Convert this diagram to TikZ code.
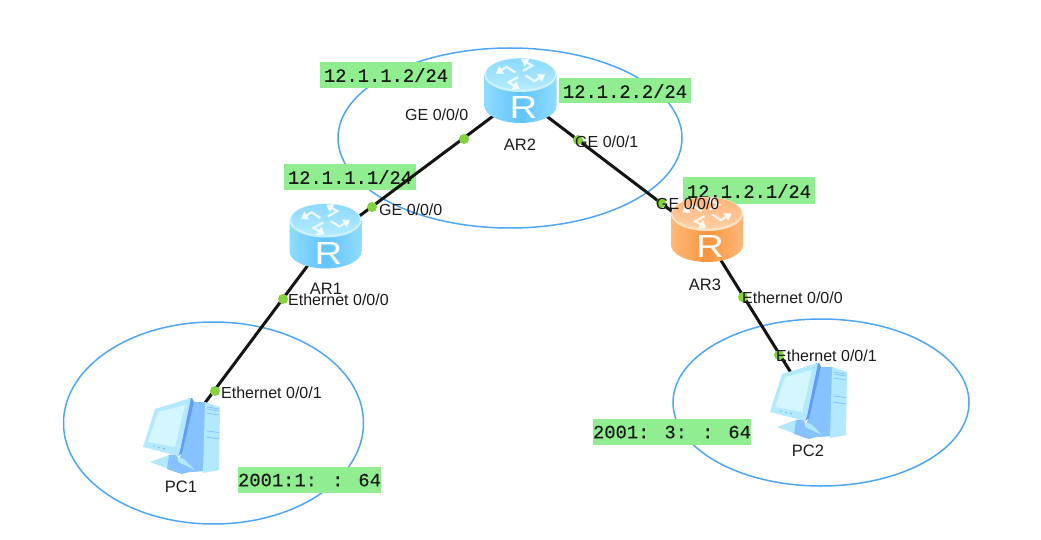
\documentclass[tikz,border=0pt]{standalone}
\usepackage{fontspec}
\setmainfont{Liberation Sans}
\newfontfamily\addrfont[FakeBold=0.25]{Liberation Mono}
\usetikzlibrary{arrows.meta}
\definecolor{ringc}{HTML}{4DA6FA}
\definecolor{boxc}{HTML}{90EE90}
\definecolor{dotc}{HTML}{84D23C}
\definecolor{txtc}{HTML}{1C1C1C}
\tikzset{
  x=1pt,y=-1pt,
  ring/.style={draw=ringc,line width=1.5pt},
  addr/.style={fill=boxc,inner sep=0pt,text=black!90,font=\addrfont\fontsize{18.8}{20}\selectfont,text depth=0pt},
  link/.style={draw=black!92,line width=3pt},
  port/.style={circle,fill=dotc,inner sep=0pt,minimum size=10pt},
  iflabel/.style={anchor=west,inner sep=0pt,text=txtc,font=\fontsize{16}{17}\selectfont},
  devlabel/.style={inner sep=0pt,text=txtc,font=\fontsize{16.5}{18}\selectfont},
  router/.pic={
    \path[left color=routA\pgfkeysvalueof{/tikz/rtone},right color=routA\pgfkeysvalueof{/tikz/rtone},middle color=routB\pgfkeysvalueof{/tikz/rtone}]
      (-36,-16) -- (-36,15.5) arc[start angle=180,end angle=0,x radius=36,y radius=17] -- (36,-16) -- cycle;
    \path[fill=routC\pgfkeysvalueof{/tikz/rtone}] (0,-15.5) ellipse[x radius=36,y radius=17];
    \path[top color=routD\pgfkeysvalueof{/tikz/rtone},bottom color=routE\pgfkeysvalueof{/tikz/rtone}] (0,-16.5) ellipse[x radius=34.5,y radius=15.5];
    \foreach \ang in {20,110,200,290}{
      \begin{scope}[shift={(0,-16.5)},yscale=0.6,rotate=\ang]
        \draw[white,opacity=0.8,line width=2.2pt,-{Triangle[length=7pt,width=9pt]}] (4,4) -- (9,16) -- (23,9);
      \end{scope}}
    \node[text=white,inner sep=0pt,transform shape,xscale=1.2,font=\fontsize{32}{32}\selectfont] at (3,17) {R};
  },
  pc/.pic={
    % tower side
    \fill[pcside] (13,-33) -- (25,-33) -- (25,36) -- (-4,38) -- (0,18) -- cycle;
    % tower front
    \fill[pcfront] (24,-33) -- (39,-28) -- (38,35) -- (22,38) -- cycle;
    \draw[pcside,line width=0.8pt] (26,-26) -- (38,-24) (26,-22) -- (38,-20) (26,-4) -- (38,-2.5) (26,-28) -- (38,-26);
    \draw[pcside,line width=0.9pt] (25,2) -- (38,4);
    % base and stand
    \fill[pcfront] (-31,27) -- (-12,20) -- (3,24) -- (14,35) -- (1,39) -- cycle;
    \fill[pcside] (-12,20) -- (-4,19) -- (-3,27) -- (14,35) -- (1,39) -- (-14,34) -- cycle;
    % monitor
    \fill[pcedge] (8,-37) -- (11,-37) -- (13,-33) -- (1,18) -- (-3,21) -- (-2,16) -- cycle;
    \fill[pcfront] (-38,12) -- (-26,-26) -- (10,-37) -- (-1,16) -- (-3,21) -- cycle;
    \fill[pcscreen] (-33,7) -- (-23,-23) -- (4,-30) -- (-6,12) -- cycle;
    \fill[pcedge] (-27,11) circle[radius=0.7] (-22,12.3) circle[radius=0.7] (-17,13.6) circle[radius=0.7];
  }
}
\definecolor{pcside}{HTML}{86C2FF}
\definecolor{pcfront}{HTML}{B3E9FF}
\definecolor{pcedge}{HTML}{5E9CF5}
\definecolor{pcscreen}{HTML}{D3F6FF}
\definecolor{routAb}{HTML}{8FDCFF}
\definecolor{routBb}{HTML}{62C4FA}
\definecolor{routCb}{HTML}{CDF2FF}
\definecolor{routDb}{HTML}{8CDAFF}
\definecolor{routEb}{HTML}{B4EBFF}
\definecolor{routAo}{HTML}{FFB878}
\definecolor{routBo}{HTML}{F7953F}
\definecolor{routCo}{HTML}{FFE3C8}
\definecolor{routDo}{HTML}{FFB37A}
\definecolor{routEo}{HTML}{FFCFA3}
\pgfkeyssetvalue{/tikz/rtone}{b}
\begin{document}
\begin{tikzpicture}
\useasboundingbox[fill=white] (0,0) rectangle (1041,540);
% rings
\draw[ring] (510,138) ellipse[x radius=172,y radius=90];
\draw[ring] (213.5,423) ellipse[x radius=150,y radius=101];
\draw[ring] (821,402.5) ellipse[x radius=148,y radius=83.5];
% address boxes
\node[addr,minimum width=132pt,minimum height=26pt] (a1) at (386,75) {12.1.1.2/24};
\node[addr,minimum width=132pt,minimum height=26pt] (a2) at (350,177) {12.1.1.1/24};
\node[addr,minimum width=132pt,minimum height=25pt] (a3) at (625,91) {12.1.2.2/24};
\node[addr,minimum width=132pt,minimum height=27pt] (a4) at (749,191) {12.1.2.1/24};
\node[addr,minimum width=143pt,minimum height=26pt] (a5) at (309.5,480) {2001:1: : 64};
\node[addr,minimum width=154pt,minimum height=26pt] (a6) at (672,432) {2001: 3: : 64};
% devices as connection points
\coordinate (ar1) at (326,241);
\coordinate (ar2) at (520,96);
\coordinate (ar3) at (707,238);
\coordinate (pc1) at (181,435);
\coordinate (pc2) at (808,400);
% links
\draw[link] (ar1) -- (ar2);
\draw[link] (ar2) -- (ar3);
\draw[link] (ar1) -- (pc1);
\draw[link] (ar3) -- (pc2);
% ports
\node[port] (p1) at (464,139) {};
\node[port] (p2) at (372,207) {};
\node[port] (p3) at (578,140) {};
\node[port] (p4) at (661,203) {};
\node[port] (p5) at (283,299) {};
\node[port] (p6) at (215,391) {};
\node[port] (p7) at (743,297) {};
\node[port] (p8) at (779,355) {};
% icons
\pic at (325.5,236) {router};
\pic at (520.5,90.5) {router};
\pgfkeyssetvalue{/tikz/rtone}{o}
\pic at (707,229.5) {router};
\pic at (181,435) {pc};
\pic at (808,400) {pc};
% labels
\node[iflabel] (l1) at (405,115) {GE 0/0/0};
\node[iflabel] (l2) at (379,210) {GE 0/0/0};
\node[iflabel] (l3) at (575,142) {GE 0/0/1};
\node[iflabel] (l4) at (656,204) {GE 0/0/0};
\node[iflabel] (l5) at (288,300) {Ethernet 0/0/0};
\node[iflabel] (l6) at (221,393) {Ethernet 0/0/1};
\node[iflabel] (l7) at (742,298) {Ethernet 0/0/0};
\node[iflabel] (l8) at (776,356) {Ethernet 0/0/1};
\node[devlabel] (d1) at (326,289) {AR1};
\node[devlabel] (d2) at (520,145) {AR2};
\node[devlabel] (d3) at (705,285) {AR3};
\node[devlabel] (d4) at (181,487) {PC1};
\node[devlabel] (d5) at (808,451) {PC2};
\end{tikzpicture}
\end{document}
